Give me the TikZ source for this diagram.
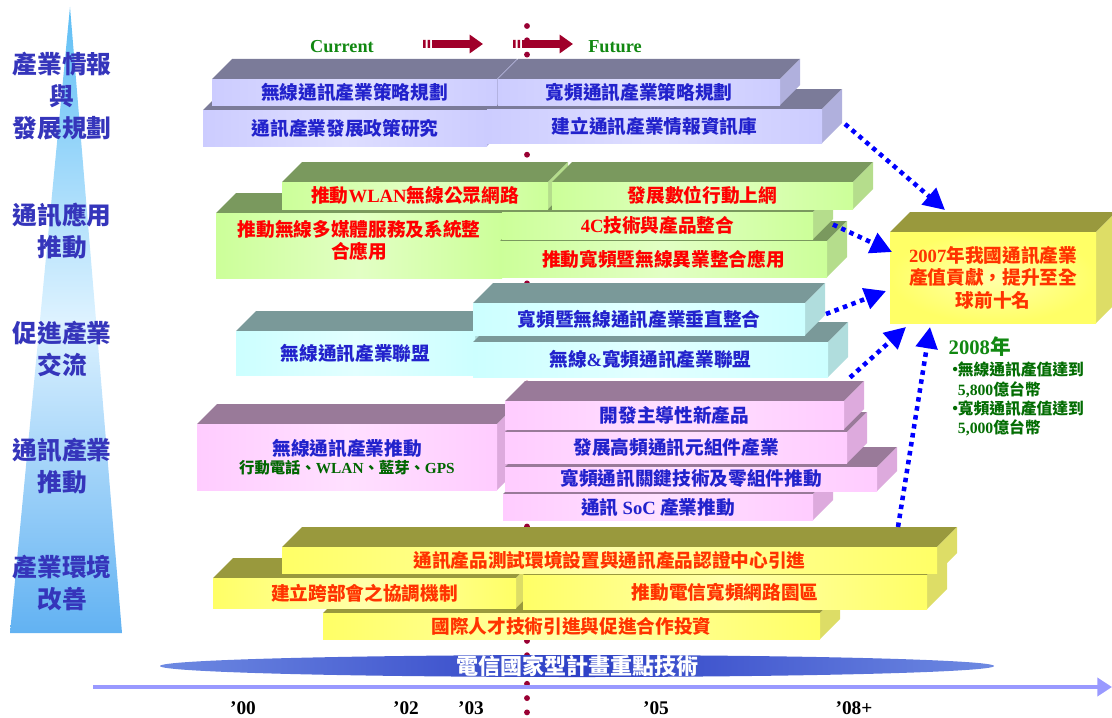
\documentclass[tikz,border=0pt]{standalone}
\usepackage{fontspec}
\setmainfont{Liberation Serif}
\newfontfamily\cjk{Noto Sans CJK TC}
\usetikzlibrary{arrows.meta,calc}

\definecolor{purA}{HTML}{CCCCFF}\definecolor{purB}{HTML}{DEDEFF}\definecolor{purT}{HTML}{7B7B99}\definecolor{purS}{HTML}{B0B0DD}
\definecolor{grnA}{HTML}{CCFF99}\definecolor{grnB}{HTML}{E2FFC4}\definecolor{grnT}{HTML}{7A995E}\definecolor{grnS}{HTML}{B5DD8C}
\definecolor{cyaA}{HTML}{CCFFFF}\definecolor{cyaB}{HTML}{E2FFFF}\definecolor{cyaT}{HTML}{7A9999}\definecolor{cyaS}{HTML}{B0DDDD}
\definecolor{pinA}{HTML}{FFCCFF}\definecolor{pinB}{HTML}{FFE0FF}\definecolor{pinT}{HTML}{997A99}\definecolor{pinS}{HTML}{DDAADD}
\definecolor{ylwA}{HTML}{FFFF66}\definecolor{ylwB}{HTML}{FFFFAA}\definecolor{ylwT}{HTML}{99993D}\definecolor{ylwS}{HTML}{DDDD66}
\definecolor{txtblue}{HTML}{2222CC}
\definecolor{txtred}{HTML}{FF0000}
\definecolor{txtorange}{HTML}{FF3300}
\definecolor{labblue}{HTML}{3535BB}
\definecolor{dotred}{HTML}{990033}
\definecolor{arrowred}{HTML}{A0002A}
\definecolor{darkgreen}{HTML}{118811}
\definecolor{deepgreen}{HTML}{006600}
\definecolor{arrowblue}{HTML}{0000FF}
\definecolor{axisblue}{HTML}{9999FF}
\definecolor{coneA}{HTML}{5EBEF5}
\definecolor{coneC}{HTML}{62B2F2}
\definecolor{coneB}{HTML}{DDF2FF}
\definecolor{bandA}{HTML}{6E8AE2}
\definecolor{bandB}{HTML}{2E40C6}

\tikzset{
  slabtext/.style={inner sep=0pt,outer sep=0pt,align=center,font=\cjk\bfseries\fontsize{14}{17}\selectfont},
  purfront/.style={slabtext,text=txtblue,left color=purA,right color=purA,middle color=purB},
  purtop/.style={fill=purT},purside/.style={fill=purS},
  grnfront/.style={slabtext,text=txtred,left color=grnA,right color=grnA,middle color=grnB},
  grntop/.style={fill=grnT},grnside/.style={fill=grnS},
  cyafront/.style={slabtext,text=txtblue,left color=cyaA,right color=cyaA,middle color=cyaB},
  cyatop/.style={fill=cyaT},cyaside/.style={fill=cyaS},
  pinfront/.style={slabtext,text=txtblue,left color=pinA,right color=pinA,middle color=pinB},
  pintop/.style={fill=pinT},pinside/.style={fill=pinS},
  ylwfront/.style={slabtext,text=txtorange,left color=ylwA,right color=ylwA,middle color=ylwB},
  ylwtop/.style={fill=ylwT},ylwside/.style={fill=ylwS},
  goalfront/.style={slabtext,text=txtorange,inner color=ylwB,outer color=ylwA},
  goaltop/.style={fill=ylwT},goalside/.style={fill=ylwS},
  sidelab/.style={font=\cjk\bfseries\fontsize{18.5}{24}\selectfont,text=labblue,align=center},
  yearlab/.style={font=\bfseries\fontsize{14.5}{16}\selectfont},
  flowarrow/.style={draw=arrowred,line width=6.5pt,-{Triangle[length=10pt,width=13.5pt]}},
  linkarrow/.style={draw=arrowblue,line width=3.4pt,dash pattern=on 3.4pt off 3.4pt,-{Triangle[length=16pt,width=16pt]}},
  timeaxis/.style={draw=axisblue,line width=3pt,-{Triangle[length=11pt,width=13.5pt]}}
}

\newcommand{\slab}[7]{%
  \fill[#2top] (#3,#4) -- (#3+20,#4-20) -- (#5+20,#4-20) -- (#5,#4) -- cycle;
  \fill[#2side] (#5,#4) -- (#5+20,#4-20) -- (#5+20,#6-20) -- (#5,#6) -- cycle;
  \node[#2front,minimum width={(#5-#3)*0.75pt},minimum height={(#6-#4)*0.75pt}] (#1) at ({(#3+#5)/2},{(#4+#6)/2}) {#7};
}
\newcommand{\en}[1]{{\rmfamily #1}}

\begin{document}
\begin{tikzpicture}[x=0.75pt,y=-0.75pt,font=\bfseries]
	\useasboundingbox (0,0) rectangle (1112,717);
	\shade[top color=coneA,bottom color=coneC,middle color=coneB] (70,7) -- (122,633) -- (10,633) -- cycle;
	\node[sidelab] (info) at (62,96) {產業情報\\與\\發展規劃};
	\node[sidelab] (apps) at (62,231) {通訊應用\\推動};
	\node[sidelab] (exch) at (62,349) {促進產業\\交流};
	\node[sidelab] (indu) at (62,466) {通訊產業\\推動};
	\node[sidelab] (envi) at (62,583) {產業環境\\改善};
	\foreach \k in {0,...,48} \fill[dotred] (527,26+14.3*\k) circle (2.2pt);
	\shade[left color=bandA,right color=bandA,middle color=bandB] (577,666) ellipse (417 and 11);
	\node[text=white,font=\cjk\bfseries\fontsize{16.5}{18}\selectfont] (plan) at (577,666) {電信國家型計畫重點技術};
	\coordinate (t0) at (93,687);
	\coordinate (t1) at (1112,687);
	\draw[timeaxis] (t0) -- (t1);
	\node[yearlab] (y00) at (243,708) {’00};
	\node[yearlab] (y02) at (406,708) {’02};
	\node[yearlab] (y03) at (471,708) {’03};
	\node[yearlab] (y05) at (656,708) {’05};
	\node[yearlab] (y08) at (854,708) {’08+};
	\foreach \dx in {0,90} {
		\fill[arrowred] (423+\dx,40) rectangle (425.5+\dx,48) (427.5+\dx,40) rectangle (430+\dx,48);
		\draw[flowarrow] (432+\dx,44) -- (483+\dx,44);
	}
	\node[text=darkgreen,font=\bfseries\fontsize{13.7}{16}\selectfont] (cur) at (342,47) {Current};
	\node[text=darkgreen,font=\bfseries\fontsize{13.7}{16}\selectfont] (fut) at (615,47) {Future};
	\slab{ppol}{pur}{203}{110}{487}{146}{通訊產業發展政策研究}
	\slab{idb}{pur}{487}{109}{822}{143}{建立通訊產業情報資訊庫}
	\slab{wpol}{pur}{212}{79}{497}{105}{無線通訊產業策略規劃}
	\slab{bpol}{pur}{498}{79}{780}{105}{寬頻通訊產業策略規劃}
	\slab{mmed}{grn}{216}{213}{502}{278}{推動無線多媒體服務及系統整\\合應用\\[-8pt]\mbox{}}
	\slab{xind}{grn}{500}{241}{827}{277}{推動寬頻暨無線異業整合應用}
	\slab{c4}{grn}{502}{212}{813}{239}{\en{4C}技術與產品整合}
	\slab{wlan}{grn}{282}{182}{548}{209}{推動\en{WLAN}無線公眾網路}
	\slab{mob}{grn}{552}{182}{853}{209}{發展數位行動上網}
	\slab{wall}{cya}{236}{331}{475}{375}{無線通訊產業聯盟}
	\slab{ball}{cya}{473}{342}{828}{377}{無線\en{\&}寬頻通訊產業聯盟}
	\slab{vint}{cya}{473}{303}{805}{335}{寬頻暨無線通訊產業垂直整合}
	\slab{wpush}{pin}{197}{424}{497}{490}{無線通訊產業推動\\[-3pt]{\color{deepgreen}\fontsize{11.5}{14}\selectfont 行動電話、\en{WLAN}、藍芽、\en{GPS}}}
	\slab{soc}{pin}{503}{494}{813}{520}{通訊 \en{SoC} 產業推動}
	\slab{keyc}{pin}{505}{467}{877}{491}{寬頻通訊關鍵技術及零組件推動}
	\slab{rfc}{pin}{505}{432}{847}{463}{發展高頻通訊元組件產業}
	\slab{newp}{pin}{505}{401}{844}{429}{開發主導性新產品}
	\slab{talent}{ylw}{323}{613}{820}{639}{國際人才技術引進與促進合作投資}
	\slab{coord}{ylw}{213}{578}{516}{608}{建立跨部會之協調機制}
	\slab{park}{ylw}{523}{575}{927}{609}{推動電信寬頻網路園區}
	\slab{test}{ylw}{282}{547}{937}{573}{通訊產品測試環境設置與通訊產品認證中心引進}
	\slab{goal}{goal}{890}{232}{1096}{323}{\en{2007}年我國通訊產業\\產值貢獻，提升至全\\球前十名}
	\node[anchor=west,text=darkgreen,font=\cjk\bfseries\fontsize{15.5}{18}\selectfont] (yr) at (944,347) {\en{2008}年};
	\node[anchor=north west,inner sep=0pt,align=left,text=deepgreen!80!darkgreen,font=\cjk\bfseries\fontsize{11.8}{14.3}\selectfont] (stat) at (947,362)
		{\makebox[8pt][l]{‧}無線通訊產值達到\\\hspace*{8pt}\en{5,800}億台幣\\\makebox[8pt][l]{‧}寬頻通訊產值達到\\\hspace*{8pt}\en{5,000}億台幣};
	\draw[linkarrow] ($(idb.east)+(23,-2)$) -- ($(goal.north west)+(55,-22)$);
	\draw[linkarrow] ($(c4.east)+(20,-1)$) -- ($(goal.north west)+(2,20)$);
	\draw[linkarrow] ($(vint.east)+(21,-5)$) -- ($(goal.south west)+(-4,-32)$);
	\draw[linkarrow] ($(ball.east)+(22,18)$) -- ($(goal.south west)+(16,4)$);
	\draw[linkarrow] ($(test.north east)+(-39,-20)$) -- ($(goal.south west)+(40,4)$);
\end{tikzpicture}
\end{document}
